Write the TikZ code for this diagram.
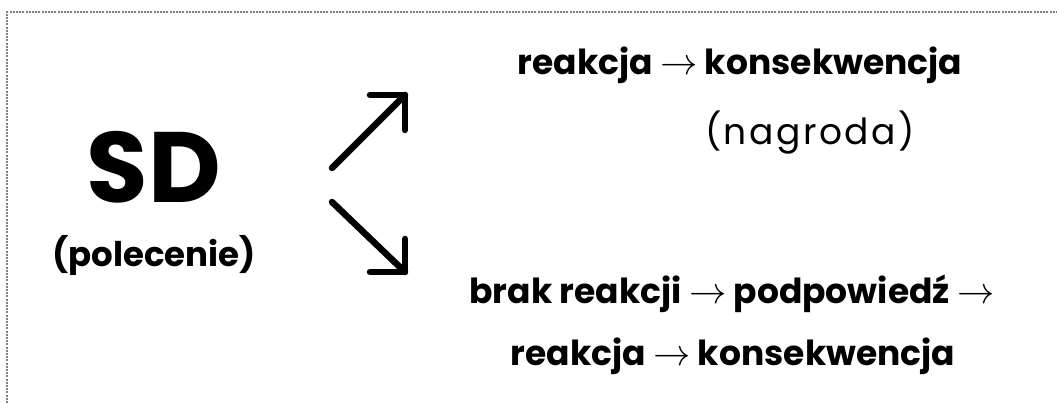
\documentclass[tikz,border=0pt]{standalone}
\usepackage{fontspec}
\setmainfont{Poppins}[BoldFont={Poppins Bold}]
\newcommand{\ar}{{\fontsize{20}{20}\selectfont\scalebox{1.8}{$\rightarrow$}}}
\begin{document}
\begin{tikzpicture}[x=1pt,y=-1pt,
  frame/.style={draw=gray, line width=1.3pt, dash pattern=on 2pt off 1.2pt},
  big/.style={font=\bfseries\fontsize{100}{100}\selectfont, anchor=base, inner sep=0pt},
  sub/.style={font=\bfseries\fontsize{34}{40}\selectfont, anchor=base, inner sep=0pt},
  line/.style={font=\bfseries\fontsize{34.5}{40}\selectfont, anchor=base, inner sep=0pt},
  note/.style={font=\addfontfeatures{LetterSpace=7}\fontsize{36}{40}\selectfont, anchor=base, inner sep=0pt},
  arr/.style={line width=6.5pt, line cap=round, line join=round}]
\useasboundingbox (0,0) rectangle (1057,403);
\draw[frame] (7,403) -- (7,12) -- (1057,12);
\node[big] (sd) at (154,203) {SD};
\node[sub] (pol) at (154,266) {(polecenie)};
\node[line] (l1) at (740,75) {reakcja \ar{} konsekwencja};
\node[note] (l2) at (810,145) {(nagroda)};
\node[line] (l3) at (732,303) {brak reakcji \ar{} podpowiedź \ar};
\node[line] (l4) at (733,365) {reakcja \ar{} konsekwencja};
\coordinate (u0) at (332,168);
\coordinate (u1) at (405,95);
\coordinate (d0) at (332,202);
\coordinate (d1) at (405,272);
\draw[arr] (u0) -- (u1);
\draw[arr] ([xshift=-35pt]u1) -- (u1) -- ([yshift=-35pt]u1);
\draw[arr] (d0) -- (d1);
\draw[arr] ([xshift=-35pt]d1) -- (d1) -- ([yshift=33pt]d1);
\end{tikzpicture}
\end{document}
